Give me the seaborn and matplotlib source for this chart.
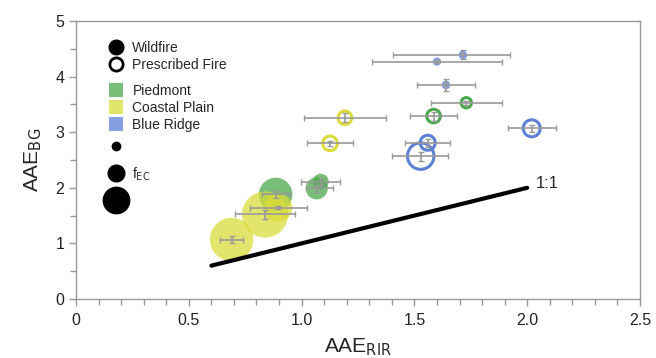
import numpy as np
import pandas as pd
import matplotlib
matplotlib.use("Agg")
import matplotlib.pyplot as plt
import seaborn as sns
from matplotlib.lines import Line2D
from matplotlib.ticker import MultipleLocator

sns.set_style("white")
plt.rcParams['font.family'] = ['Liberation Sans', 'DejaVu Sans']

# ---- data ----
region = ["Piedmont", "Piedmont", "Piedmont",
          "Coastal Plain", "Coastal Plain", "Coastal Plain",
          "Blue Ridge", "Blue Ridge", "Blue Ridge",
          "Piedmont", "Piedmont",
          "Coastal Plain", "Coastal Plain",
          "Blue Ridge", "Blue Ridge", "Blue Ridge"]
fire = ["Wildfire"] * 9 + ["Prescribed Fire"] * 7
aae_rir = [1.085, 1.067, 0.885, 0.897, 0.838, 0.690, 1.715, 1.600, 1.640,
           1.730, 1.585, 1.192, 1.126, 2.020, 1.559, 1.528]
aae_bg = [2.11, 1.99, 1.88, 1.64, 1.52, 1.07, 4.39, 4.27, 3.85,
          3.53, 3.29, 3.26, 2.80, 3.07, 2.81, 2.57]
x_lo = [0.997, 1.020, 0.824, 0.771, 0.705, 0.638, 1.405, 1.310, 1.510,
        1.575, 1.480, 1.012, 1.024, 1.915, 1.458, 1.400]
x_hi = [1.170, 1.138, 0.949, 1.023, 0.971, 0.742, 1.925, 1.890, 1.770,
        1.890, 1.690, 1.373, 1.228, 2.126, 1.660, 1.650]
y_err = [0.06, 0.06, 0.06, 0.03, 0.08, 0.06, 0.08, 0.02, 0.10,
         0.04, 0.08, 0.08, 0.05, 0.06, 0.07, 0.08]
f_ec = [0.12, 0.23, 0.53, 0.37, 1.00, 0.89, 0.035, 0.032, 0.035,
        0.05, 0.087, 0.087, 0.10, 0.136, 0.106, 0.33]
one_to_one = [0.6, 2.0]

palette = {"Piedmont": "#4ba84b", "Coastal Plain": "#d9dc3a", "Blue Ridge": "#5b80d6"}

df = pd.DataFrame(dict(region=region, fire=fire, x=aae_rir, y=aae_bg,
                       xlo=x_lo, xhi=x_hi, yerr=y_err, fec=f_ec))

fig = plt.figure(figsize=(6.56, 3.58), dpi=100)
ax = fig.add_axes([76/656, 1-299/358, (640-76)/656, (299-21)/358])

wild = df[df.fire == "Wildfire"]
presc = df[df.fire == "Prescribed Fire"]

sns.scatterplot(data=wild, x="x", y="y", hue="region", palette=palette,
                size="fec", sizes=(0, 1100), size_norm=(0, 1),
                alpha=0.75, linewidth=0, legend=False, ax=ax, zorder=2)
n_before = len(ax.collections)
sns.scatterplot(data=presc, x="x", y="y", hue="region", palette=palette,
                size="fec", sizes=(0, 1100), size_norm=(0, 1),
                legend=False, ax=ax, zorder=2)
coll = ax.collections[n_before]
ec = coll.get_facecolors()
coll.set_edgecolors(ec)
coll.set_facecolors("none")
coll.set_linewidths(2.2)

ax.errorbar(df.x, df.y,
            xerr=[df.x - df.xlo, df.xhi - df.x], yerr=df.yerr,
            fmt="none", ecolor="#9a9a9a", elinewidth=1.2, capsize=2.5,
            capthick=1.0, zorder=3)

sns.lineplot(x=one_to_one, y=one_to_one, color="black", linewidth=3,
             ax=ax, zorder=4)
ax.text(2.04, 2.08, "1:1", fontsize=12, ha="left", va="center")

ax.set_xlim(0, 2.5)
ax.set_ylim(0, 5)
ax.xaxis.set_major_locator(MultipleLocator(0.5))
ax.xaxis.set_minor_locator(MultipleLocator(0.1))
ax.yaxis.set_major_locator(MultipleLocator(1))
ax.yaxis.set_minor_locator(MultipleLocator(0.5))
ax.set_xticks([0, 0.5, 1.0, 1.5, 2.0, 2.5])
ax.set_xticklabels(["0", "0.5", "1.0", "1.5", "2.0", "2.5"])
ax.tick_params(which="both", direction="out", color="#999999",
               labelsize=11.5, labelcolor="#222222")
ax.tick_params(which="major", length=5, width=1)
ax.tick_params(which="minor", length=4, width=1)
ax.tick_params(axis="x", which="both", bottom=True, pad=5)
ax.tick_params(axis="y", which="both", left=True)
for s in ax.spines.values():
    s.set_color("#999999")
    s.set_linewidth(1.0)

ax.set_xlabel(r"AAE$_{\mathrm{RIR}}$", fontsize=15, labelpad=6)
ax.set_ylabel(r"AAE$_{\mathrm{BG}}$", fontsize=15, labelpad=8)

# ---- legends ----
def px_to_axes(px, py):
    return ((px - 76) / (640 - 76), (299 - py) / (299 - 21))

h1 = [Line2D([], [], marker="o", ls="none", color="black", markersize=10.5),
      Line2D([], [], marker="o", ls="none", markerfacecolor="none",
             markeredgecolor="black", markeredgewidth=2, markersize=9.5)]
leg1 = ax.legend(h1, ["Wildfire", "Prescribed Fire"], loc="upper left",
                 bbox_to_anchor=px_to_axes(106, 41), frameon=False, fontsize=10,
                 handlelength=1.4, handletextpad=0.5, labelspacing=0.2,
                 borderpad=0, borderaxespad=0)
ax.add_artist(leg1)

h2 = [Line2D([], [], marker="s", ls="none", color=palette[r], alpha=0.75,
             markersize=10, markeredgewidth=0)
      for r in ["Piedmont", "Coastal Plain", "Blue Ridge"]]
leg2 = ax.legend(h2, ["Piedmont", "Coastal Plain", "Blue Ridge"], loc="upper left",
                 bbox_to_anchor=px_to_axes(106, 84), frameon=False, fontsize=10,
                 handlelength=1.4, handletextpad=0.5, labelspacing=0.2,
                 borderpad=0, borderaxespad=0)
ax.add_artist(leg2)

h3 = [Line2D([], [], marker="o", ls="none", color="black", markersize=ms)
      for ms in [6, 12, 19]]
leg3 = ax.legend(h3, ["", r"f$_{\mathrm{EC}}$", ""], loc="upper left",
                 bbox_to_anchor=px_to_axes(106, 140), frameon=False, fontsize=10,
                 handlelength=1.4, handletextpad=0.5, labelspacing=0.8,
                 borderpad=0, borderaxespad=0)

fig.savefig("out.png", dpi=100)
